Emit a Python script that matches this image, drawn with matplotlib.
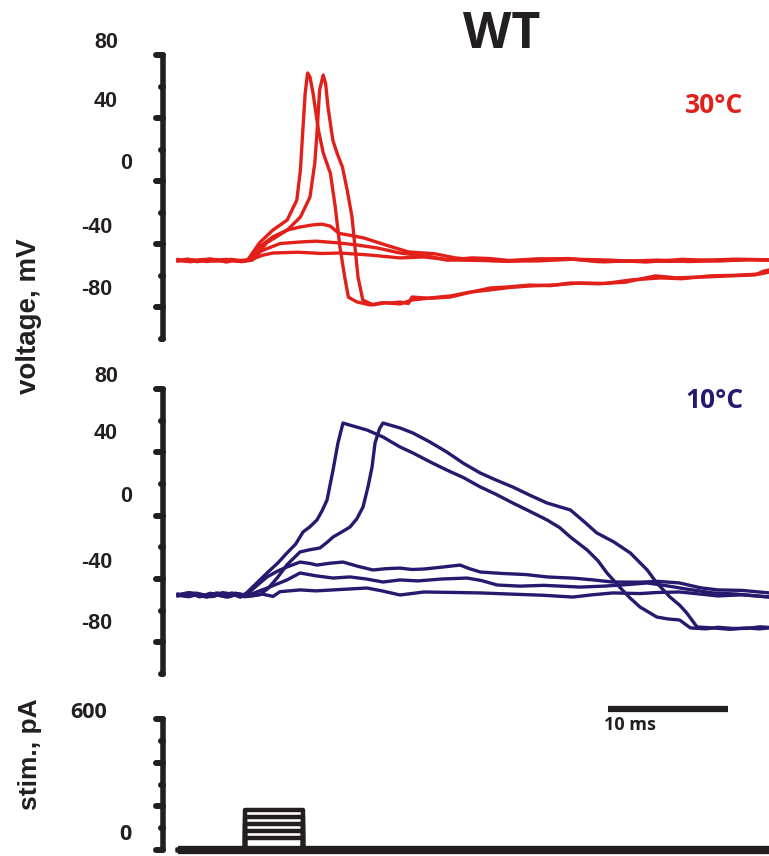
import matplotlib
matplotlib.use('Agg')
import matplotlib.pyplot as plt
import matplotlib.transforms as mtransforms

# time in ms, membrane voltage in mV, injected current in pA
red_spike_early = [(0, -50.5), (0.8, -49.3), (1.6, -51.0), (2.4, -50.0), (3.2, -49.6), (4.0, -51.2),
                   (4.8, -50.2), (5.5, -50.6), (5.8, -50.0), (6.8, -39.0), (7.9, -31.0), (9.1, -24.6),
                   (9.9, -12.0), (10.2, 7.0), (10.4, 32.0), (10.6, 56.0), (10.8, 68.6), (11.0, 66.0),
                   (11.25, 56.0), (11.7, 32.5), (12.1, 18.0), (12.7, 5.0), (13.1, -16.0), (13.5, -42.0),
                   (13.9, -61.0), (14.2, -73.5), (14.9, -76.5), (16.0, -78.4), (17.0, -77.0), (17.7, -77.2),
                   (18.5, -76.6), (19.2, -77.5), (19.5, -73.4), (21.0, -74.2), (22.7, -73.4), (24.3, -70.5),
                   (26.0, -67.7), (27.5, -67.0), (29.3, -65.8), (31.0, -66.2), (32.7, -64.5), (35.0, -65.0),
                   (37.3, -64.0), (38.5, -62.0), (39.8, -60.0), (41.5, -61.2), (43.9, -60.7), (46.0, -60.0),
                   (48.1, -59.4), (48.8, -57.0), (49.3, -56.2)]
red_spike_late = [(0, -49.6), (0.9, -50.8), (1.8, -50.0), (2.7, -49.2), (3.6, -50.6), (4.5, -50.1),
                  (5.3, -51.0), (6.2, -50.0), (7.4, -39.0), (9.1, -31.0), (10.2, -22.7), (11.0, -10.0),
                  (11.4, 11.6), (11.6, 32.5), (11.8, 57.8), (12.1, 67.3), (12.3, 62.0), (12.5, 47.0),
                  (12.9, 26.1), (13.25, 17.9), (13.7, 9.0), (14.1, -5.6), (14.5, -22.7), (14.75, -41.7),
                  (15.0, -60.7), (15.4, -75.3), (16.25, -78.4), (17.3, -77.0), (18.5, -77.8), (19.5, -75.3),
                  (21.0, -74.0), (22.7, -72.7), (24.4, -70.2), (26.0, -68.9), (27.6, -67.4), (29.3, -66.4),
                  (31.5, -65.7), (33.5, -64.5), (35.6, -64.8), (37.7, -62.6), (40.2, -61.3), (42.0, -61.8),
                  (44.3, -60.0), (46.5, -59.6), (48.5, -58.8), (49.3, -57.5)]
red_sub_high = [(0, -50.0), (1.0, -51.0), (2.0, -49.6), (3.0, -50.4), (4.0, -49.5), (5.0, -50.8),
                (5.8, -50.0), (6.9, -41.0), (7.9, -35.3), (9.1, -30.9), (10.2, -29.0), (11.2, -27.7),
                (12.0, -27.2), (12.7, -28.5), (13.4, -33.0), (14.5, -34.5), (15.5, -36.0), (17.3, -40.4),
                (19.2, -44.8), (21.4, -46.0), (23.1, -48.6), (25.0, -49.9), (27.5, -50.8), (30.0, -49.5),
                (32.5, -49.0), (35.0, -51.0), (37.5, -50.6), (40.0, -50.0), (42.5, -50.9), (45.0, -50.5),
                (47.5, -49.8), (49.3, -50.0)]
red_sub_mid = [(0, -50.5), (1.2, -49.8), (2.4, -50.9), (3.6, -49.9), (4.8, -50.3), (5.9, -50.0),
               (7.0, -44.0), (8.5, -39.5), (10.2, -38.5), (11.5, -38.0), (12.9, -38.8), (13.4, -39.1),
               (15.0, -40.5), (16.6, -42.3), (18.5, -45.5), (21.2, -48.0), (22.4, -50.0), (24.5, -48.6),
               (26.0, -49.0), (28.0, -50.6), (30.0, -50.5), (33.0, -49.4), (36.0, -50.0), (39.0, -51.2),
               (42.0, -49.5), (45.0, -50.4), (47.5, -49.7), (49.3, -50.0)]
red_sub_low = [(0, -50.0), (1.1, -50.9), (2.2, -49.8), (3.3, -50.6), (4.4, -49.5), (5.2, -50.4),
               (6.0, -50.0), (7.0, -47.0), (7.9, -45.5), (10.0, -45.0), (12.0, -45.8), (13.5, -45.5),
               (16.0, -46.8), (18.5, -48.6), (20.5, -48.0), (22.7, -49.9), (25.0, -50.2), (27.0, -50.5),
               (30.0, -49.2), (33.0, -49.5), (35.5, -51.0), (38.0, -50.5), (41.0, -50.8), (44.0, -50.0),
               (46.5, -49.4), (49.3, -49.8)]

blue_spike_early = [(0, -50.0), (0.8, -48.8), (1.5, -49.0), (2.2, -51.2), (3.0, -51.0), (3.7, -48.6),
                    (4.5, -49.5), (5.2, -51.5), (5.75, -48.5), (6.5, -43.0), (7.42, -36.2), (8.3, -30.0),
                    (9.08, -23.6), (9.8, -18.0), (10.42, -10.3), (11.0, -7.0), (11.58, -2.7), (12.0, 3.0),
                    (12.42, 9.9), (12.92, 28.8), (13.33, 45.9), (13.75, 58.5), (14.5, 56.8), (15.75, 54.1),
                    (17.08, 49.7), (18.5, 43.4), (19.58, 39.6), (21.0, 34.0), (22.4, 28.8), (23.8, 24.0),
                    (25.2, 18.1), (26.5, 13.5), (27.9, 8.0), (29.3, 2.8), (30.75, -2.7), (31.8, -7.5),
                    (32.7, -13.5), (34.1, -21.7), (35.0, -28.5), (35.75, -36.2), (36.8, -45.1), (37.6, -51.5),
                    (38.5, -57.7), (39.9, -64.0), (40.8, -65.2), (41.8, -65.9), (42.7, -70.9), (44.0, -71.5),
                    (45.0, -70.5), (46.2, -71.2), (47.4, -71.2), (48.5, -70.2), (49.3, -70.6)]
blue_spike_late = [(0, -50.3), (0.9, -51.2), (1.8, -49.4), (2.6, -50.8), (3.4, -48.9), (4.2, -51.4),
                   (5.0, -49.2), (5.8, -50.6), (6.8, -50.0), (7.5, -46.0), (8.3, -39.0), (9.08, -31.0),
                   (10.17, -22.9), (11.0, -21.5), (11.83, -20.4), (12.4, -17.0), (12.92, -13.5), (13.6, -10.5),
                   (14.33, -7.2), (14.9, -2.0), (15.42, 5.5), (15.83, 18.1), (16.17, 30.7), (16.42, 45.9),
                   (16.8, 55.0), (17.08, 58.5), (18.5, 55.4), (19.58, 52.2), (21.0, 46.5), (22.4, 40.2),
                   (23.8, 33.0), (25.2, 26.9), (26.5, 22.5), (27.9, 18.1), (29.3, 13.0), (30.75, 8.0),
                   (32.7, 3.6), (33.8, -3.5), (34.9, -10.9), (36.3, -16.5), (37.7, -23.6), (39.1, -34.3),
                   (39.9, -42.5), (41.0, -51.4), (41.8, -56.5), (42.4, -61.5), (43.25, -70.3), (44.6, -70.9),
                   (46.0, -71.8), (47.4, -70.9), (48.4, -71.5), (49.3, -70.9)]
blue_sub_high = [(0, -50.1), (0.9, -48.7), (1.8, -51.3), (2.7, -49.0), (3.6, -50.7), (4.5, -48.8),
                 (5.2, -51.0), (5.75, -49.5), (6.6, -44.0), (7.42, -38.7), (8.3, -35.0), (9.08, -32.4),
                 (10.17, -29.3), (11.0, -30.2), (11.58, -31.2), (12.7, -30.0), (13.75, -29.3), (15.0, -32.0),
                 (16.25, -34.3), (17.3, -33.5), (18.5, -33.1), (19.5, -34.0), (20.5, -33.7), (22.0, -32.5),
                 (23.5, -31.2), (24.3, -33.5), (25.2, -35.6), (27.0, -36.5), (29.0, -37.2), (30.75, -38.7),
                 (33.0, -39.5), (34.5, -40.5), (36.2, -41.9), (38.5, -42.0), (40.0, -41.5), (41.8, -42.5),
                 (43.5, -45.5), (45.0, -46.9), (47.0, -47.2), (49.3, -48.8)]
blue_sub_mid = [(0, -50.7), (1.0, -48.8), (2.0, -51.0), (3.0, -49.3), (4.0, -51.4), (5.0, -49.6),
                (5.9, -50.1), (7.5, -45.5), (9.08, -40.6), (10.17, -36.2), (11.5, -38.0), (12.92, -39.4),
                (14.33, -38.7), (15.7, -40.0), (17.08, -41.9), (18.5, -40.6), (20.0, -41.2), (22.0, -40.0),
                (24.1, -39.4), (25.3, -41.0), (26.6, -43.8), (28.5, -44.5), (30.5, -44.0), (33.5, -45.1),
                (35.5, -44.5), (37.5, -43.5), (39.1, -42.5), (40.5, -44.0), (42.5, -46.5), (44.6, -48.8),
                (46.5, -49.5), (48.0, -50.5), (49.3, -51.4)]
blue_sub_low = [(0, -49.5), (0.8, -51.0), (1.6, -49.0), (2.4, -51.4), (3.2, -48.8), (4.0, -50.9),
                (4.8, -48.9), (5.5, -51.2), (6.2, -50.7), (7.0, -49.5), (7.92, -51.0), (8.5, -48.0),
                (10.17, -46.9), (11.5, -47.5), (12.92, -46.9), (14.3, -46.3), (15.75, -45.7), (17.0, -47.5),
                (18.5, -50.1), (20.5, -48.2), (23.0, -48.5), (25.2, -48.8), (28.0, -49.6), (30.5, -50.3),
                (32.9, -51.4), (34.5, -50.0), (36.25, -48.8), (38.5, -49.2), (40.0, -48.5), (41.8, -48.2),
                (43.5, -49.5), (45.0, -50.7), (47.0, -50.0), (49.3, -51.4)]

stim_levels = [55, 87, 119, 151, 183]
stim_on, stim_off, sweep_end = 5.55, 10.45, 49.3

v_major = [80, 40, 0, -40, -80]
v_minor = [60, 20, -20, -60, -100]
i_major = [600, 400, 200, 0]
i_minor = [500, 300, 100]

RED = '#e2201a'
BLUE = '#261a6e'
INK = '#231f20'
W, H = 769, 856

fig = plt.figure(figsize=(W / 100, H / 100), dpi=100)


def add_panel(top, bottom):
    # panel rect from pixel rows of the spine ends
    return fig.add_axes([163 / W, 1 - bottom / H, (W - 163) / W, (bottom - top) / H])


def style_axis(ax, major, minor):
    for side in ['top', 'right', 'bottom']:
        ax.spines[side].set_visible(False)
    sp = ax.spines['left']
    sp.set_linewidth(4)
    sp.set_color(INK)
    sp.set_capstyle('round')
    ax.set_xticks([])
    ax.set_yticks([])
    ax.patch.set_alpha(0)
    tr = mtransforms.blended_transform_factory(ax.transAxes, ax.transData)
    span = W - 163
    for vals, ln in [(major, 7), (minor, 2.5)]:
        for v in vals:
            ax.plot([-ln / span, 0], [v, v], transform=tr, color=INK, lw=4.3,
                    solid_capstyle='round', clip_on=False)
    return tr


def tick_label(ax, tr, value, text, dx, dy, size=15.5, family='Liberation Sans'):
    off = mtransforms.ScaledTranslation(-dx / 100, dy / 100, fig.dpi_scale_trans)
    ax.text(0, value, text, transform=tr + off, ha='right', va='center',
            fontsize=size, fontweight='bold', color=INK, family=family)


def draw(ax, trace, color):
    t = [p[0] for p in trace]
    v = [p[1] for p in trace]
    ax.plot(t, v, color=color, lw=2.4, solid_joinstyle='round')


xlim = (-1.25, 49.25)

# 30 C panel
ax1 = add_panel(55, 339)
ax1.set_xlim(*xlim)
ax1.set_ylim(-100, 80)
tr1 = style_axis(ax1, v_major, v_minor)
for tr_data in [red_sub_low, red_sub_mid, red_sub_high, red_spike_late, red_spike_early]:
    draw(ax1, tr_data, RED)
for v, s, dx, dy in [(80, '80', 45, 12), (40, '40', 45, 17), (0, '0', 31, 18),
                     (-40, '-40', 51, 17), (-80, '-80', 51, 18)]:
    tick_label(ax1, tr1, v, s, dx, dy)
ax1.text(44.7, 47.7, '30°C', color=RED, fontsize=19, fontweight='bold',
         family='Open Sans', ha='center', va='center')

# 10 C panel
ax2 = add_panel(389, 674)
ax2.set_xlim(*xlim)
ax2.set_ylim(-100, 80)
tr2 = style_axis(ax2, v_major, v_minor)
for tr_data in [blue_sub_low, blue_sub_mid, blue_sub_high, blue_spike_late, blue_spike_early]:
    draw(ax2, tr_data, BLUE)
for v, s, dx, dy in [(80, '80', 45, 13), (40, '40', 45, 19), (0, '0', 31, 19),
                     (-40, '-40', 51, 16), (-80, '-80', 51, 19)]:
    tick_label(ax2, tr2, v, s, dx, dy)
ax2.text(44.7, 73, '10°C', color=BLUE, fontsize=19, fontweight='bold',
         family='Open Sans', ha='center', va='center')

# stimulus panel
ax3 = add_panel(719, 850)
ax3.set_xlim(*xlim)
ax3.set_ylim(0, 600)
tr3 = style_axis(ax3, i_major, i_minor)
for lvl in stim_levels:
    ax3.plot([0, stim_on, stim_on, stim_off, stim_off, sweep_end], [0, 0, lvl, lvl, 0, 0],
             color=INK, lw=3.2, clip_on=False)
ax3.plot([0, sweep_end], [0, 0], color=INK, lw=6, solid_capstyle='butt', clip_on=False)
tick_label(ax3, tr3, 600, '600', 56, 7, size=15.5, family='Open Sans')
tick_label(ax3, tr3, 0, '0', 31, 15, size=15.5, family='Open Sans')

# 10 ms scale bar
ax3.plot([35.8, 45.8], [646, 646], color=INK, lw=4.5, solid_capstyle='butt', clip_on=False)
ax3.text(35.5, 572, '10 ms', color=INK, fontsize=13, fontweight='bold',
         family='Open Sans', ha='left', va='center')

fig.text(502 / W, 1 - 35 / H, 'WT', fontsize=36, fontweight='bold', family='Open Sans',
         color=INK, ha='center', va='center')
fig.text(29 / W, 1 - 316 / H, 'voltage, mV', rotation=90, fontsize=20, fontweight='bold',
         family='Liberation Sans', color=INK, ha='center', va='center')
fig.text(30 / W, 1 - 754 / H, 'stim., pA', rotation=90, fontsize=19, fontweight='bold',
         family='Liberation Sans', color=INK, ha='center', va='center')

fig.savefig('out.png', dpi=100)
